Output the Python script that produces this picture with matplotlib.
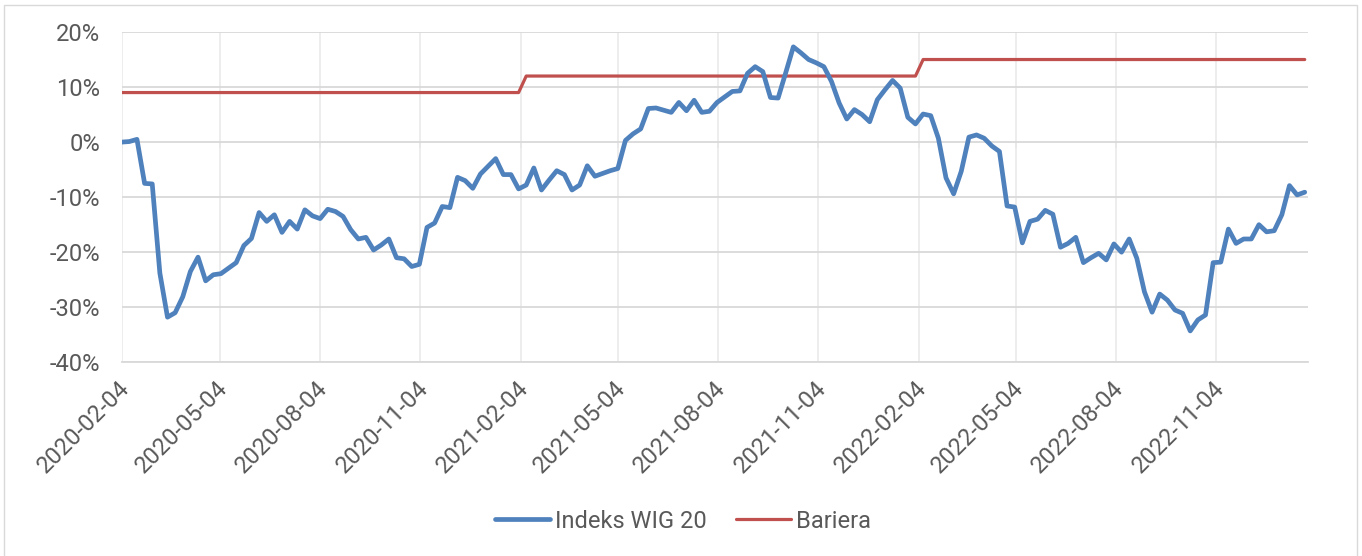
import matplotlib
matplotlib.use("Agg")
import matplotlib.pyplot as plt
import matplotlib.transforms as mtransforms
from matplotlib.patches import Rectangle
from matplotlib.ticker import FuncFormatter
from matplotlib import font_manager
import pandas as pd

avail = {f.name for f in font_manager.fontManager.ttflist}
fams = [f for f in ['Roboto', 'Lato', 'DejaVu Sans'] if f in avail]
plt.rcParams['font.family'] = fams
plt.rcParams['font.weight'] = 'normal'

start_date = "2020-02-04"
wig20_values = [
    0.0, 0.1, 0.5, -7.5, -7.6, -23.8, -31.8, -31.0, -28.1, -23.5,
    -20.9, -25.2, -24.1, -23.9, -22.9, -21.9, -18.8, -17.5, -12.8, -14.4,
    -13.2, -16.4, -14.4, -15.8, -12.3, -13.4, -13.9, -12.2, -12.6, -13.5,
    -15.9, -17.6, -17.3, -19.6, -18.7, -17.6, -21.0, -21.2, -22.6, -22.2,
    -15.5, -14.7, -11.7, -11.9, -6.4, -7.0, -8.4, -5.8, -4.4, -3.0,
    -5.9, -5.9, -8.5, -7.8, -4.7, -8.7, -6.9, -5.2, -5.9, -8.7,
    -7.8, -4.3, -6.2, -5.7, -5.2, -4.8, 0.3, 1.5, 2.4, 6.1,
    6.2, 5.8, 5.4, 7.2, 5.7, 7.6, 5.4, 5.6, 7.2, 8.2,
    9.2, 9.3, 12.5, 13.7, 12.8, 8.1, 8.0, 12.6, 17.3, 16.2,
    15.0, 14.4, 13.7, 11.0, 7.1, 4.2, 5.9, 5.0, 3.7, 7.7,
    9.5, 11.2, 9.8, 4.5, 3.3, 5.1, 4.8, 0.7, -6.5, -9.4,
    -5.3, 0.9, 1.3, 0.7, -0.7, -1.7, -11.6, -11.8, -18.3, -14.4,
    -14.0, -12.4, -13.1, -19.1, -18.4, -17.3, -21.9, -21.0, -20.2, -21.4,
    -18.5, -20.0, -17.6, -21.1, -27.2, -30.9, -27.6, -28.7, -30.5, -31.1,
    -34.3, -32.3, -31.4, -21.9, -21.8, -15.8, -18.4, -17.6, -17.6, -15.0,
    -16.3, -16.1, -13.2, -7.9, -9.6, -9.1,
]
barrier_levels = [9, 12, 15]
barrier_weeks = [53, 52, 51]

series_labels = ["Indeks WIG 20", "Bariera"]
tick_dates = ["2020-02-04", "2020-05-04", "2020-08-04", "2020-11-04",
              "2021-02-04", "2021-05-04", "2021-08-04", "2021-11-04",
              "2022-02-04", "2022-05-04", "2022-08-04", "2022-11-04"]
y_ticks = [-40, -30, -20, -10, 0, 10, 20]

dates = pd.date_range(start_date, periods=len(wig20_values), freq="7D")
barrier = []
for lvl, n in zip(barrier_levels, barrier_weeks):
    barrier += [lvl] * n

W, H = 1362, 556
FS = 17
fig = plt.figure(figsize=(W / 100, H / 100), dpi=100)
fig.patches.append(Rectangle((4 / W, -0.05), (1357 - 4) / W, 1.05 - 5 / H,
                             transform=fig.transFigure, fill=False,
                             edgecolor='#d9d9d9', linewidth=1.0))

ax = fig.add_axes([121.7 / W, 1 - 362.3 / H, (1308 - 121.7) / W, (362.3 - 32) / H])

tick_dt = pd.to_datetime(tick_dates)
ax.set_xticks(tick_dt)
ax.set_xticklabels(tick_dates)
ax.set_yticks(y_ticks)
ax.yaxis.set_major_formatter(FuncFormatter(lambda v, p: f"{int(round(v))}%"))

ax.grid(axis='y', color='#d9d9d9', linewidth=1.3, zorder=0)
ax.grid(axis='x', color='#ececec', linewidth=1.3, zorder=0)
ax.vlines(tick_dt, -1.0, 0, color='#c8c8c8', linewidth=1.3, zorder=1)

ax.plot(dates, wig20_values, color='#4f81bd', linewidth=3.4,
        solid_joinstyle='round', solid_capstyle='round', label=series_labels[0], zorder=3)
ax.plot(dates, barrier, color='#c0504d', linewidth=2.3,
        solid_joinstyle='round', solid_capstyle='round', label=series_labels[1], zorder=2)

ax.set_xlim(dates[0], dates[-1] + pd.Timedelta(days=3))
ax.set_ylim(-40, 20)

for s in ['top', 'right', 'left']:
    ax.spines[s].set_visible(False)
ax.spines['bottom'].set_color('#d9d9d9')
ax.spines['bottom'].set_linewidth(1.3)
ax.tick_params(axis='both', length=0, labelsize=FS, labelcolor='#595959')
ax.tick_params(axis='y', pad=15.6)
ax.tick_params(axis='x', pad=16)
offset = mtransforms.ScaledTranslation(4 / 100, 0, fig.dpi_scale_trans)
for lab in ax.get_xticklabels():
    lab.set_rotation(45)
    lab.set_ha('right')
    lab.set_va('center')
    lab.set_rotation_mode('anchor')
    lab.set_transform(lab.get_transform() + offset)

leg = ax.legend(loc='center', bbox_to_anchor=(683 / W, 1 - 521 / H),
                bbox_transform=fig.transFigure, ncol=2, frameon=False,
                fontsize=FS, handlelength=2.33, columnspacing=1.27, handletextpad=0.2)
for t in leg.get_texts():
    t.set_color('#595959')

fig.savefig("out.png", dpi=100)
